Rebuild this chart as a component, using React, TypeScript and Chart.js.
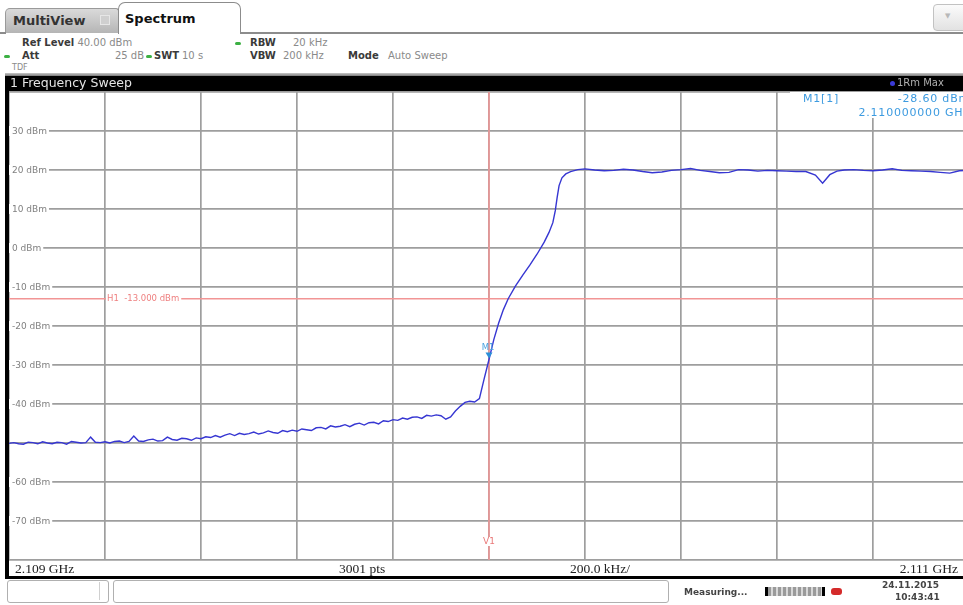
import React, { useEffect, useRef } from 'react';
import { Chart, registerables } from 'chart.js';

Chart.register(...registerables);

// ---- axis / setup values (frequency axis in kHz offset from 2.109 GHz) ----
const SPAN_START_KHZ = 0;
const SPAN_STOP_KHZ = 2000;
const X_STEP_KHZ = 200;
const REF_LEVEL_DBM = 40;
const BOTTOM_LEVEL_DBM = -80;
const Y_STEP_DB = 10;
const Y_TICK_VALUES = [30, 20, 10, 0, -10, -20, -30, -40, -60, -70];
const Y_TICK_LABELS = ['30 dBm', '20 dBm', '10 dBm', '0 dBm', '-10 dBm', '-20 dBm', '-30 dBm', '-40 dBm', '-60 dBm', '-70 dBm'];
const H1_LEVEL = -13;
const H1_LABEL = 'H1  -13.000 dBm';
const V1_FREQ_KHZ = 1000;
const M1_FREQ_KHZ = 1000;
const M1_LEVEL = -28.6;

// ---- trace: noise floor below the filter edge ----
const noiseFreqKHz = [
  0, 10, 20, 30, 40, 50, 60, 70, 80, 90,
  100, 110, 120, 130, 140, 150, 160, 170, 180, 190,
  200, 210, 220, 230, 240, 250, 260, 270, 280, 290,
  300, 310, 320, 330, 340, 350, 360, 370, 380, 390,
  400, 410, 420, 430, 440, 450, 460, 470, 480, 490,
  500, 510, 520, 530, 540, 550, 560, 570, 580, 590,
  600, 610, 620, 630, 640, 650, 660, 670, 680, 690,
  700, 710, 720, 730, 740, 750, 760, 770, 780, 790,
  800, 810, 820, 830, 840, 850, 860, 870, 880, 890,
  900, 910, 920, 930, 940, 950, 960, 970, 980, 990,
];
const noiseLevelDbm = [
  -50.1, -49.9, -50.2, -50.3, -49.8, -49.9, -50.2, -49.7, -50.0, -50.2,
  -49.8, -49.9, -50.3, -49.6, -49.8, -50.0, -49.9, -48.5, -49.8, -49.9,
  -49.7, -50.0, -49.6, -49.5, -49.9, -49.6, -48.2, -49.5, -49.6, -49.2,
  -49.0, -49.5, -49.4, -48.5, -49.1, -49.3, -48.8, -48.9, -49.3, -48.7,
  -48.9, -48.4, -48.6, -48.1, -48.5, -48.0, -47.6, -48.1, -47.5, -47.8,
  -47.6, -47.2, -47.7, -47.4, -46.9, -47.3, -47.5, -46.8, -47.1, -46.7,
  -47.0, -46.4, -46.6, -46.8, -46.1, -46.0, -46.4, -45.6, -45.9, -45.7,
  -45.3, -45.8, -45.2, -44.9, -45.4, -44.8, -44.7, -45.1, -44.3, -44.5,
  -44.0, -44.2, -43.6, -43.9, -43.4, -43.3, -43.7, -42.9, -43.1, -42.8,
  -43.0, -43.9, -43.3, -41.8, -40.6, -39.6, -39.3, -39.5, -38.6, -33.5,
];

// ---- trace: rising filter edge ----
const edgeFreqKHz = [1000, 1010, 1020, 1030, 1040, 1055, 1070, 1085, 1100, 1115, 1125, 1133, 1138, 1142, 1146, 1152, 1160, 1170, 1185, 1200];
const edgeLevelDbm = [-28.6, -23.5, -19.3, -15.8, -13.0, -9.8, -7.0, -4.4, -1.6, 1.5, 4.0, 6.5, 9.5, 13.0, 16.0, 18.0, 19.0, 19.6, 20.1, 20.3];

// ---- trace: passband ----
const flatFreqKHz = [
  1220, 1240, 1260, 1280, 1300, 1320, 1340, 1360, 1380, 1400,
  1420, 1440, 1460, 1480, 1500, 1520, 1540, 1560, 1580, 1600,
  1620, 1640, 1660, 1680, 1695, 1710, 1725, 1740, 1760, 1780,
  1800, 1820, 1840, 1860, 1880, 1900, 1920, 1940, 1960, 1980, 2000,
];
const flatLevelDbm = [
  20.0, 19.8, 19.9, 20.2, 20.0, 19.6, 19.3, 19.5, 19.9, 20.1,
  20.4, 19.9, 19.6, 19.3, 19.4, 20.1, 20.0, 19.7, 19.9, 19.8,
  19.7, 19.6, 19.6, 18.7, 16.6, 18.8, 19.7, 20.0, 20.1, 19.9,
  19.8, 20.0, 20.3, 19.9, 19.8, 19.7, 19.6, 19.4, 19.2, 19.8, 19.9,
];

const abs = (s: React.CSSProperties): React.CSSProperties => ({ position: 'absolute', whiteSpace: 'nowrap', lineHeight: 1, ...s });

function Dot({ left, top }: { left: number; top: number }) {
  return <div style={abs({ left, top, width: 6, height: 3, borderRadius: 2, background: '#3cb043' })} />;
}

export default function App() {
  const canvasRef = useRef<HTMLCanvasElement>(null);

  useEffect(() => {
    const canvas = canvasRef.current;
    if (!canvas) return;
    const points: { x: number; y: number }[] = [];
    noiseFreqKHz.forEach((f, i) => points.push({ x: f, y: noiseLevelDbm[i] }));
    edgeFreqKHz.forEach((f, i) => points.push({ x: f, y: edgeLevelDbm[i] }));
    flatFreqKHz.forEach((f, i) => points.push({ x: f, y: flatLevelDbm[i] }));

    const overlay = {
      id: 'fsvOverlay',
      beforeDatasetsDraw(chart: any) {
        const { ctx, chartArea } = chart;
        const xs = chart.scales.x;
        const ys = chart.scales.y;
        ctx.save();
        // display line H1
        const hy = ys.getPixelForValue(H1_LEVEL);
        ctx.strokeStyle = '#f29595';
        ctx.lineWidth = 1.5;
        ctx.beginPath();
        ctx.moveTo(chartArea.left, hy);
        ctx.lineTo(chartArea.right, hy);
        ctx.stroke();
        // frequency line V1
        const vx = xs.getPixelForValue(V1_FREQ_KHZ);
        ctx.beginPath();
        ctx.moveTo(vx, chartArea.top);
        ctx.lineTo(vx, chartArea.bottom);
        ctx.stroke();
        // y labels
        ctx.font = '9px "DejaVu Sans", sans-serif';
        ctx.textBaseline = 'middle';
        Y_TICK_VALUES.forEach((v, i) => {
          const py = ys.getPixelForValue(v);
          const label = Y_TICK_LABELS[i];
          const w = ctx.measureText(label).width;
          ctx.fillStyle = '#ffffff';
          ctx.fillRect(chartArea.left, py - 5, w + 5, 10);
          ctx.fillStyle = '#808080';
          ctx.fillText(label, chartArea.left + 3, py + 0.5);
        });
        // H1 label
        ctx.font = '8.5px "DejaVu Sans", sans-serif';
        const hw = ctx.measureText(H1_LABEL).width;
        const hx = xs.getPixelForValue(200) + 2;
        ctx.fillStyle = '#ffffff';
        ctx.fillRect(hx - 1, hy - 4, hw + 3, 8);
        ctx.fillStyle = '#ee7f7f';
        ctx.fillText(H1_LABEL, hx, hy + 0.5);
        // V1 label
        ctx.font = '9px "DejaVu Sans", sans-serif';
        ctx.textAlign = 'center';
        ctx.fillStyle = '#ffffff';
        ctx.fillRect(vx - 6, chartArea.bottom - 23, 12, 9);
        ctx.fillStyle = '#e97878';
        ctx.fillText('V1', vx, chartArea.bottom - 18);
        ctx.restore();
      },
      afterDatasetsDraw(chart: any) {
        const { ctx } = chart;
        const mx = chart.scales.x.getPixelForValue(M1_FREQ_KHZ);
        const my = chart.scales.y.getPixelForValue(M1_LEVEL);
        ctx.save();
        ctx.fillStyle = '#2b8fd8';
        ctx.beginPath();
        ctx.moveTo(mx - 3.5, my - 7);
        ctx.lineTo(mx + 3.5, my - 7);
        ctx.lineTo(mx, my - 1);
        ctx.closePath();
        ctx.fill();
        ctx.font = '8.5px "DejaVu Sans", sans-serif';
        ctx.textAlign = 'center';
        ctx.textBaseline = 'middle';
        ctx.fillStyle = '#4aa3e0';
        ctx.fillText('M1', mx - 1, my - 12);
        ctx.restore();
      },
    };

    const gridOpts = { color: '#9e9e9e', lineWidth: 1.7, drawTicks: false };
    const chart = new Chart(canvas, {
      type: 'line',
      data: {
        datasets: [
          {
            data: points,
            borderColor: '#3636d2',
            borderWidth: 1.4,
            pointRadius: 0,
            tension: 0,
            fill: false,
          },
        ],
      },
      options: {
        animation: false,
        responsive: false,
        maintainAspectRatio: false,
        parsing: false as any,
        layout: { padding: { left: 9, top: 4, right: 6, bottom: 6 } },
        plugins: { legend: { display: false }, tooltip: { enabled: false }, title: { display: false } },
        scales: {
          x: {
            type: 'linear',
            min: SPAN_START_KHZ,
            max: SPAN_STOP_KHZ,
            ticks: { display: false, stepSize: X_STEP_KHZ },
            grid: gridOpts,
            border: { display: false },
          },
          y: {
            type: 'linear',
            min: BOTTOM_LEVEL_DBM,
            max: REF_LEVEL_DBM,
            ticks: { display: false, stepSize: Y_STEP_DB },
            grid: gridOpts,
            border: { display: false },
          },
        },
      },
      plugins: [overlay],
    });
    return () => chart.destroy();
  }, []);

  const bold: React.CSSProperties = { fontWeight: 'bold', color: '#3a3a3a' };
  const val: React.CSSProperties = { color: '#8a8a8a' };
  const info = 10;

  return (
    <div style={abs({ left: 0, top: 0, width: 963, height: 605, overflow: 'hidden', background: '#ffffff', fontFamily: '"DejaVu Sans", sans-serif' })}>
      {/* tabs */}
      <div style={abs({ left: 5, top: 8, width: 112, height: 24, background: 'linear-gradient(#dadada, #b5b5b5)', border: '1px solid #9a9a9a', borderBottom: 'none', borderTopLeftRadius: 5, borderTopRightRadius: 3 })} />
      <div style={abs({ left: 13, top: 14, fontSize: 13, fontWeight: 'bold', color: '#333' })}>MultiView</div>
      <div style={abs({ left: 100, top: 15, width: 8, height: 8, border: '1px solid #e6e6e6', background: '#cfcfcf' })} />
      <div style={abs({ left: 118, top: 2, width: 121, height: 31, background: '#fff', border: '1px solid #8c8c8c', borderBottom: 'none', borderTopLeftRadius: 7, borderTopRightRadius: 7 })} />
      <div style={abs({ left: 125, top: 12, fontSize: 13, fontWeight: 'bold', color: '#111' })}>Spectrum</div>
      <div style={abs({ left: 240, top: 32, width: 723, height: 2, background: '#8c8c8c' })} />
      <div style={abs({ left: 0, top: 32, width: 6, height: 2, background: '#8c8c8c' })} />
      <div style={abs({ left: 933, top: 4, width: 32, height: 25, border: '1px solid #c2c2c2', borderRadius: 4, background: 'linear-gradient(#fbfbfb, #e2e2e2)' })} />
      <div style={abs({ left: 945, top: 13, fontSize: 7, color: '#b8b8b8' })}>▼</div>

      {/* setting info */}
      <div style={abs({ left: 22, top: 38, fontSize: info })}><span style={bold}>Ref Level</span> <span style={val}>40.00 dBm</span></div>
      <Dot left={4} top={55} />
      <div style={abs({ left: 22, top: 51, fontSize: info, ...bold })}>Att</div>
      <div style={abs({ left: 112, top: 51, width: 32, textAlign: 'right', fontSize: info, ...val })}>25 dB</div>
      <Dot left={146} top={55} />
      <div style={abs({ left: 154, top: 51, fontSize: info, ...bold })}>SWT</div>
      <div style={abs({ left: 182, top: 51, fontSize: info, ...val })}>10 s</div>
      <Dot left={235} top={42} />
      <div style={abs({ left: 250, top: 38, fontSize: info, ...bold })}>RBW</div>
      <div style={abs({ left: 293, top: 38, fontSize: info, ...val })}>20 kHz</div>
      <div style={abs({ left: 250, top: 51, fontSize: info, ...bold })}>VBW</div>
      <div style={abs({ left: 283, top: 51, fontSize: info, ...val })}>200 kHz</div>
      <div style={abs({ left: 348, top: 51, fontSize: info, ...bold })}>Mode</div>
      <div style={abs({ left: 388, top: 51, fontSize: info, ...val })}>Auto Sweep</div>
      <div style={abs({ left: 12, top: 64, fontSize: 8, color: '#8a8a8a' })}>TDF</div>
      <div style={abs({ left: 5, top: 73, width: 958, height: 3, background: 'linear-gradient(#c8c8c8, #7a7a7a)' })} />

      {/* diagram */}
      <canvas ref={canvasRef} width={975} height={478} style={{ position: 'absolute', left: 0, top: 88, width: 975, height: 478 }} />

      <div style={abs({ left: 5, top: 76, width: 958, height: 15, background: '#000' })} />
      <div style={abs({ left: 10, top: 77, fontSize: 12.5, color: '#e4e4e4' })}>1 Frequency Sweep</div>
      <div style={abs({ left: 890, top: 81, width: 5, height: 5, borderRadius: 3, background: '#3a3ad8' })} />
      <div style={abs({ left: 897, top: 78, fontSize: 10, color: '#b0b0b0' })}>1Rm Max</div>

      {/* marker info */}
      <div style={abs({ left: 790, top: 92, width: 180, height: 26, background: '#fff' })} />
      <div style={abs({ left: 803, top: 93, fontSize: 11, letterSpacing: 0.8, color: '#3d9be0' })}>M1[1]</div>
      <div style={abs({ right: -7, top: 93, fontSize: 11, letterSpacing: 0.8, color: '#3d9be0', textAlign: 'right' })}>-28.60 dBm</div>
      <div style={abs({ right: -7, top: 107, fontSize: 11, letterSpacing: 0.8, color: '#3d9be0', textAlign: 'right' })}>2.110000000 GHz</div>

      {/* left frame */}
      <div style={abs({ left: 5, top: 76, width: 4, height: 503, background: '#000' })} />

      {/* frequency bar */}
      <div style={abs({ left: 9, top: 561, width: 960, height: 15, background: '#fff' })} />
      <div style={abs({ left: 15, top: 562, fontSize: 13.5, fontFamily: '"Liberation Serif", serif', color: '#222' })}>2.109 GHz</div>
      <div style={abs({ left: 339, top: 562, fontSize: 13.5, fontFamily: '"Liberation Serif", serif', color: '#222' })}>3001 pts</div>
      <div style={abs({ left: 570, top: 562, fontSize: 13.5, fontFamily: '"Liberation Serif", serif', color: '#222' })}>200.0 kHz/</div>
      <div style={abs({ right: 5, top: 562, fontSize: 13.5, fontFamily: '"Liberation Serif", serif', color: '#222' })}>2.111 GHz</div>
      <div style={abs({ left: 5, top: 576, width: 958, height: 3, background: '#000' })} />

      {/* status bar */}
      <div style={abs({ left: 7, top: 580, width: 100, height: 21, border: '1px solid #b0b0b0', borderRadius: 3 })} />
      <div style={abs({ left: 99, top: 582, width: 1, height: 18, background: '#d0d0d0' })} />
      <div style={abs({ left: 113, top: 580, width: 554, height: 21, border: '1px solid #b0b0b0', borderRadius: 3 })} />
      <div style={abs({ left: 684, top: 588, fontSize: 9, fontWeight: 'bold', color: '#444' })}>Measuring...</div>
      <div style={abs({ left: 765, top: 587, width: 54, height: 9, borderLeft: '3px solid #000', borderRight: '3px solid #000', background: 'repeating-linear-gradient(90deg, #9a9a9a 0 3px, #d8d8d8 3px 5px)' })} />
      <div style={abs({ left: 831, top: 588, width: 11, height: 7, borderRadius: 3, background: '#d42a2a' })} />
      <div style={abs({ left: 882, top: 581, fontSize: 9, fontWeight: 'bold', color: '#444' })}>24.11.2015</div>
      <div style={abs({ left: 895, top: 593, fontSize: 9, fontWeight: 'bold', color: '#444' })}>10:43:41</div>
    </div>
  );
}
